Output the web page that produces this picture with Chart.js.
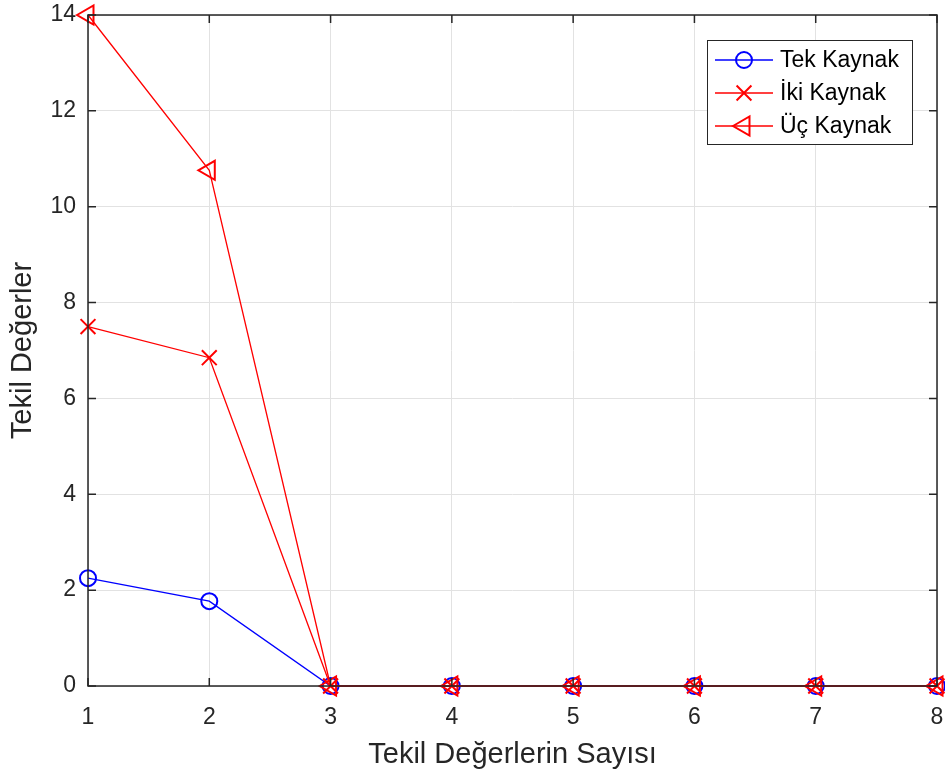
<!DOCTYPE html>
<html>
<head>
<meta charset="utf-8">
<script src="https://cdn.jsdelivr.net/npm/chart.js@4/dist/chart.umd.min.js"></script>
<style>
  html, body { margin: 0; padding: 0; background: #fff; overflow: hidden; }
  #wrap { width: 945px; height: 778px; position: relative; }
</style>
</head>
<body>
<div id="wrap"><canvas id="svChart"></canvas></div>
<script>
// --- Data ---
const xValues = [1, 2, 3, 4, 5, 6, 7, 8];
const tekKaynak = [2.25, 1.77, 0, 0, 0, 0, 0, 0];
const ikiKaynak = [7.5, 6.85, 0, 0, 0, 0, 0, 0];
const ucKaynak = [14, 10.76, 0, 0, 0, 0, 0, 0];
const seriesLabels = ['Tek Kaynak', 'İki Kaynak', 'Üç Kaynak'];
const xTicks = [1, 2, 3, 4, 5, 6, 7, 8];
const yTicks = [0, 2, 4, 6, 8, 10, 12, 14];

const FONT = "'Liberation Sans', Arial, sans-serif";
const AXIS = '#262626';

const toPoints = arr => arr.map((v, i) => ({ x: xValues[i], y: v }));

// no extra room for overflowing tick labels, the plot box is fixed
const noOverflow = s => {
  s.paddingTop = 0; s.paddingBottom = 0; s.paddingLeft = 0; s.paddingRight = 0;
};

// --- Box, inner ticks and legend (MATLAB look) ---
const matlabFrame = {
  id: 'matlabFrame',
  afterDatasetsDraw(chart) {
    const { ctx, chartArea: a, scales } = chart;
    ctx.save();
    ctx.strokeStyle = AXIS;
    ctx.lineWidth = 1.5;
    ctx.strokeRect(a.left, a.top, a.right - a.left, a.bottom - a.top);
    ctx.beginPath();
    yTicks.forEach(t => {
      const y = scales.y.getPixelForValue(t);
      ctx.moveTo(a.left, y); ctx.lineTo(a.left + 8, y);
      ctx.moveTo(a.right, y); ctx.lineTo(a.right - 8, y);
    });
    xTicks.forEach(t => {
      const x = scales.x.getPixelForValue(t);
      ctx.moveTo(x, a.bottom); ctx.lineTo(x, a.bottom - 8);
      ctx.moveTo(x, a.top); ctx.lineTo(x, a.top + 8);
    });
    ctx.stroke();

    // legend
    const lx = 707, ly = 40, lw = 205, lh = 104;
    ctx.fillStyle = '#fff';
    ctx.fillRect(lx, ly, lw, lh);
    ctx.strokeStyle = AXIS;
    ctx.lineWidth = 1;
    ctx.strokeRect(lx + 0.5, ly + 0.5, lw, lh);
    ctx.font = '23px ' + FONT;
    ctx.textBaseline = 'middle';
    chart.data.datasets.forEach((ds, i) => {
      const rowY = ly + 20 + i * 33;
      ctx.strokeStyle = ds.borderColor;
      ctx.lineWidth = 1.3;
      ctx.beginPath();
      ctx.moveTo(lx + 8, rowY); ctx.lineTo(lx + 66, rowY);
      ctx.stroke();
      ctx.lineWidth = 2;
      ctx.fillStyle = 'rgba(0,0,0,0)';
      Chart.helpers.drawPoint(ctx, {
        pointStyle: ds.pointStyle, radius: ds.pointRadius,
        rotation: ds.pointRotation || 0, borderWidth: 2
      }, lx + 37, rowY);
      ctx.fillStyle = '#000';
      ctx.fillText(ds.label, lx + 73, rowY + 1);
    });
    ctx.restore();
  }
};

const ctx = document.getElementById('svChart');

new Chart(ctx, {
  type: 'line',
  data: {
    datasets: [
      {
        label: seriesLabels[0], data: toPoints(tekKaynak),
        borderColor: '#0000ff', backgroundColor: 'rgba(0,0,0,0)',
        borderWidth: 1.3, pointStyle: 'circle', pointRadius: 8,
        pointBorderWidth: 2, pointBorderColor: '#0000ff', order: 2, clip: false
      },
      {
        label: seriesLabels[1], data: toPoints(ikiKaynak),
        borderColor: '#ff0000', backgroundColor: 'rgba(0,0,0,0)',
        borderWidth: 1.3, pointStyle: 'crossRot', pointRadius: 10.5,
        pointBorderWidth: 2, pointBorderColor: '#ff0000', order: 1, clip: false
      },
      {
        label: seriesLabels[2], data: toPoints(ucKaynak),
        borderColor: '#ff0000', backgroundColor: 'rgba(0,0,0,0)',
        borderWidth: 1.3, pointStyle: 'triangle', pointRotation: -90, pointRadius: 11,
        pointBorderWidth: 2, pointBorderColor: '#ff0000', order: 0, clip: false
      }
    ]
  },
  options: {
    responsive: true,
    maintainAspectRatio: false,
    animation: false,
    layout: { autoPadding: false, padding: { top: 15, right: 8, left: 0, bottom: 0 } },
    plugins: { legend: { display: false }, tooltip: { enabled: false } },
    scales: {
      x: {
        type: 'linear', min: 1, max: 8,
        afterBuildTicks: s => { s.ticks = xTicks.map(v => ({ value: v })); },
        afterFit: s => { s.height = 92; noOverflow(s); },
        grid: { color: '#e2e2e2', lineWidth: 1, drawTicks: false },
        border: { display: false },
        ticks: { color: AXIS, font: { family: FONT, size: 23 }, padding: 18 },
        title: { display: true, text: 'Tekil Değerlerin Sayısı', color: AXIS,
                 font: { family: FONT, size: 29 }, padding: { top: 4, bottom: 6 } }
      },
      y: {
        min: 0, max: 14,
        afterBuildTicks: s => { s.ticks = yTicks.map(v => ({ value: v })); },
        afterFit: s => { s.width = 88; noOverflow(s); },
        grid: { color: '#e2e2e2', lineWidth: 1, drawTicks: false },
        border: { display: false },
        ticks: { color: AXIS, font: { family: FONT, size: 23 }, padding: 12 },
        title: { display: true, text: 'Tekil Değerler', color: AXIS,
                 font: { family: FONT, size: 29 }, padding: { top: 6, bottom: 4 } }
      }
    }
  },
  plugins: [matlabFrame]
});
</script>
</body>
</html>
